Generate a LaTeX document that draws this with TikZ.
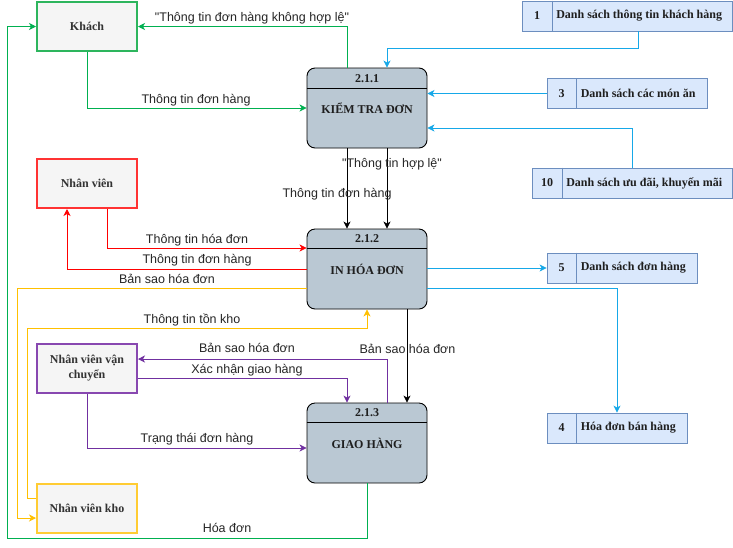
\documentclass[tikz,border=0pt]{standalone}
\usepackage{fontspec}
\setmainfont{Liberation Serif}
\newfontfamily\lblfont{Liberation Sans}
\usetikzlibrary{arrows.meta}

\definecolor{flowgreen}{HTML}{00B050}
\definecolor{flowcyan}{HTML}{16A8E8}
\definecolor{flowred}{HTML}{FF0000}
\definecolor{flowyellow}{HTML}{FFC000}
\definecolor{flowpurple}{HTML}{7030A0}
\definecolor{entfill}{HTML}{F5F5F5}
\definecolor{enttext}{HTML}{333333}
\definecolor{entgreen}{HTML}{2DB55D}
\definecolor{entred}{HTML}{FF3333}
\definecolor{entpurple}{HTML}{8848B0}
\definecolor{entyellow}{HTML}{FFCC33}
\definecolor{procfill}{HTML}{BAC8D3}
\definecolor{storefill}{HTML}{DAE8FC}
\definecolor{storeline}{HTML}{6C8EBF}

\begin{document}
\begin{tikzpicture}[x=1pt,y=-1pt,
  entity/.style={draw, line width=2pt, fill=entfill, minimum width=100pt,
    minimum height=49pt, inner sep=0pt, align=center, text=enttext,
    font=\fontsize{12}{15}\selectfont\bfseries},
  proc/.style={draw=black, line width=0.9pt, fill=procfill, rounded corners=8pt,
    minimum width=120pt, minimum height=80pt, inner sep=0pt},
  ptext/.style={font=\fontsize{12}{14}\selectfont\bfseries, text=black!88, inner sep=0pt},
  store/.style={draw=storeline, line width=0.8pt, fill=storefill,
    minimum height=30pt, inner sep=0pt},
  stext/.style={font=\fontsize{12}{14}\selectfont\bfseries, text=black!88, inner sep=0pt},
  flow/.style={-{Stealth[length=7pt,width=7pt,inset=2pt]}, line width=0.8pt},
  lbl/.style={font=\lblfont\fontsize{12.5}{14}\selectfont, text=black!85,
    inner sep=0pt, text height=9pt, text depth=2.5pt, yshift=-1.8pt}
]
\useasboundingbox (0,0) rectangle (733,547);
\fill[white] (0,0) rectangle (733,547);

% ---------- external entities ----------
\node[entity, draw=entgreen]  (khach) at (87,26.5)  {Khách};
\node[entity, draw=entred]    (nv)    at (87,183.5) {Nhân viên};
\node[entity, draw=entpurple] (nvvc)  at (87,368.5) {Nhân viên vận\\chuyển};
\node[entity, draw=entyellow] (nvk)   at (87,508.5) {Nhân viên kho};

% ---------- processes ----------
\node[proc] (p1) at (367,108) {};
\draw[line width=0.9pt] ([yshift=-21pt]p1.north west) -- ([yshift=-21pt]p1.north east);
\node[ptext] (p1n) at ([yshift=-11pt]p1.north) {2.1.1};
\node[ptext] (p1t) at (p1.center) {KIỂM TRA ĐƠN};

\node[proc] (p2) at (367,269) {};
\draw[line width=0.9pt] ([yshift=-20pt]p2.north west) -- ([yshift=-20pt]p2.north east);
\node[ptext] (p2n) at ([yshift=-10.5pt]p2.north) {2.1.2};
\node[ptext] (p2t) at (p2.center) {IN HÓA ĐƠN};

\node[proc] (p3) at (367,443) {};
\draw[line width=0.9pt] ([yshift=-20pt]p3.north west) -- ([yshift=-20pt]p3.north east);
\node[ptext] (p3n) at ([yshift=-10.5pt]p3.north) {2.1.3};
\node[ptext] (p3t) at (p3.center) {GIAO HÀNG};

% ---------- data stores ----------
\newcommand{\datastore}[5]{% name, centre, width, number, title
  \node[store, minimum width=#3pt] (#1) at #2 {};
  \draw[storeline, line width=0.8pt] ([xshift=30pt]#1.north west) -- ([xshift=30pt]#1.south west);
  \node[stext] (#1n) at ([xshift=15pt]#1.west) {#4};
  \node[stext, anchor=west] (#1t) at ([xshift=34pt]#1.west) {#5};
}
\datastore{ds1}{(627.5,16)}{210}{1}{Danh sách thông tin khách hàng}
\datastore{ds3}{(627,93.5)}{160}{3}{Danh sách các món ăn}
\datastore{ds10}{(632.5,183)}{200}{10}{Danh sách ưu đãi, khuyến mãi}
\datastore{ds5}{(622,268)}{150}{5}{Danh sách đơn hàng}
\datastore{ds4}{(617,428)}{140}{4}{Hóa đơn bán hàng}

% ---------- routing columns, rows and bends ----------
\coordinate (c347) at (347,0);
\coordinate (c387) at (387,0);
\coordinate (c407) at (407,0);
\coordinate (c107) at (107,0);
\coordinate (c67)  at (67,0);
\coordinate (y128) at (0,128);
\coordinate (y248) at (0,248);
\coordinate (y288) at (0,288);
\coordinate (y359) at (0,359);
\coordinate (y378) at (0,378);
\coordinate (y448) at (0,448);
\coordinate (y498) at (0,498);
\coordinate (y518) at (0,518);
\coordinate (k1) at (638,48);
\coordinate (gl) at (7,538);
\coordinate (yb) at (17,518);
\coordinate (yk) at (27,328);

% ---------- green flows (Khách) ----------
\draw[flow, flowgreen] (p1.north -| c347) |- (khach.east);
\draw[flow, flowgreen] (khach.south) |- (p1.west);
\draw[flow, flowgreen] (p3.south) |- (gl) |- (khach.west);

% ---------- data store flows ----------
\draw[flow, flowcyan] (ds1.south -| k1) -- (k1) -| (p1.north -| c387);
\draw[flow, flowcyan] (ds3.west) -- (ds3.west -| p1.east);
\draw[flow, flowcyan] (ds10.north) |- (p1.east |- y128);
\draw[flow, flowcyan] (p2.east |- ds5.west) -- (ds5.west);
\draw[flow, flowcyan] (p2.east |- y288) -| (ds4.north);

% ---------- process to process ----------
\draw[flow, black] (p1.south -| c347) -- (p2.north -| c347);
\draw[flow, black] (p1.south -| c387) -- (p2.north -| c387);
\draw[flow, black] (p2.south -| c407) -- (p3.north -| c407);

% ---------- red flows (Nhân viên) ----------
\draw[flow, flowred] (nv.south -| c107) |- (p2.west |- y248);
\draw[flow, flowred] (p2.west) -| (nv.south -| c67);

% ---------- yellow flows (Nhân viên kho) ----------
\draw[flow, flowyellow] (p2.west |- y288) -| (yb) -- (yb -| nvk.west);
\draw[flow, flowyellow] (nvk.west |- y498) -| (yk) -| (p2.south);

% ---------- purple flows (Nhân viên vận chuyển) ----------
\draw[flow, flowpurple] (p3.north -| c387) |- (nvvc.east |- y359);
\draw[flow, flowpurple] (nvvc.east |- y378) -| (p3.north -| c347);
\draw[flow, flowpurple] (nvvc.south) |- (p3.west |- y448);

% ---------- flow labels ----------
\node[lbl] (l1)  at (252,16)    {"Thông tin đơn hàng không hợp lệ"};
\node[lbl] (l2)  at (196,98)    {Thông tin đơn hàng};
\node[lbl] (l3)  at (392,162)   {"Thông tin hợp lệ"};
\node[lbl] (l4)  at (337,192.5) {Thông tin đơn hàng};
\node[lbl] (l5)  at (197,238)   {Thông tin hóa đơn};
\node[lbl] (l6)  at (197,258)   {Thông tin đơn hàng};
\node[lbl] (l7)  at (167,278)   {Bản sao hóa đơn};
\node[lbl] (l8)  at (192,318)   {Thông tin tồn kho};
\node[lbl] (l9)  at (407.5,348) {Bản sao hóa đơn};
\node[lbl] (l10) at (247,347)   {Bản sao hóa đơn};
\node[lbl] (l11) at (247,368)   {Xác nhận giao hàng};
\node[lbl] (l12) at (197,437)   {Trạng thái đơn hàng};
\node[lbl] (l13) at (227,527)   {Hóa đơn};
\end{tikzpicture}
\end{document}
